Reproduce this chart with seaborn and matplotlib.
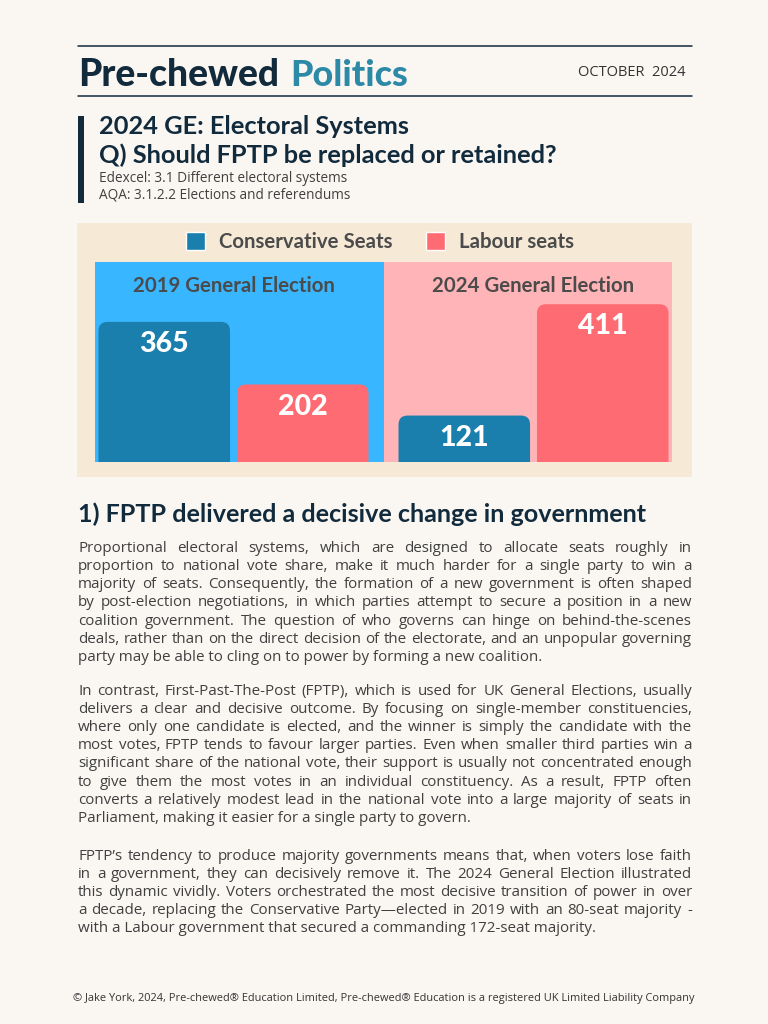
"""Newsletter page: 2019 vs 2024 seat counts with explanatory text."""

import matplotlib.pyplot as plt
from matplotlib.lines import Line2D
from matplotlib.patches import Rectangle, FancyBboxPatch
import seaborn as sns
import pandas as pd

# Chart data
ELECTIONS = ["2019 General Election", "2024 General Election"]
PARTIES = ["Conservative Seats", "Labour seats"]
CON_SEATS = [365, 121]
LAB_SEATS = [202, 411]

PARA_1 = [
    "Proportional electoral systems, which are designed to allocate seats roughly in",
    "proportion to national vote share, make it much harder for a single party to win a",
    "majority of seats. Consequently, the formation of a new government is often shaped",
    "by post-election negotiations, in which parties attempt to secure a position in a new",
    "coalition government. The question of who governs can hinge on behind-the-scenes",
    "deals, rather than on the direct decision of the electorate, and an unpopular governing",
    "party may be able to cling on to power by forming a new coalition.",
]
PARA_2 = [
    "In contrast, First-Past-The-Post (FPTP), which is used for UK General Elections, usually",
    "delivers a clear and decisive outcome. By focusing on single-member constituencies,",
    "where only one candidate is elected, and the winner is simply the candidate with the",
    "most votes, FPTP tends to favour larger parties. Even when smaller third parties win a",
    "significant share of the national vote, their support is usually not concentrated enough",
    "to give them the most votes in an individual constituency. As a result, FPTP often",
    "converts a relatively modest lead in the national vote into a large majority of seats in",
    "Parliament, making it easier for a single party to govern.",
]
PARA_3 = [
    "FPTP\u2019s tendency to produce majority governments means that, when voters lose faith",
    "in a government, they can decisively remove it. The 2024 General Election illustrated",
    "this dynamic vividly. Voters orchestrated the most decisive transition of power in over",
    "a decade, replacing the Conservative Party\u2014elected in 2019 with an 80-seat majority -",
    "with a Labour government that secured a commanding 172-seat majority.",
]

PAGE_BG = "#faf6f2"
NAVY = "#112a3c"
TEAL = "#2d8aa7"
BODY = "#404040"
LABEL = "#4b4b4b"
CON_BLUE = "#1a7fad"
LAB_PINK = "#ff6b72"
CON_BG = "#38b6ff"
LAB_BG = "#ffb4b7"
PANEL = "#f6ead7"

W, H = 768, 1024
TITLE_FONT = ["Lato", "DejaVu Sans"]
BODY_FONT = ["Open Sans", "DejaVu Sans"]


def fx(x):
    return x / W


def fy(y):
    return 1 - y / H


sns.set_theme(style="white")
plt.rcParams["font.family"] = BODY_FONT

fig = plt.figure(figsize=(7.68, 10.24), dpi=100)
fig.patch.set_facecolor(PAGE_BG)
renderer = fig.canvas.get_renderer()


def fit(text, width, **kw):
    """Font size that makes text span the given pixel width."""
    t = fig.text(0, 0, text, fontsize=10, **kw)
    w = t.get_window_extent(renderer).width
    t.remove()
    return 10 * width / w


def put(x, y, text, width, **kw):
    return fig.text(fx(x), fy(y), text, fontsize=fit(text, width, **kw), **kw)


# Header
for y in (46, 96):
    fig.add_artist(Line2D([fx(78), fx(692)], [fy(y), fy(y)], transform=fig.transFigure,
                          color=NAVY, lw=1.1))
logo = dict(family=TITLE_FONT, weight="black", va="baseline")
put(78, 86, "Pre-chewed", 200, color=NAVY, **logo)
put(290, 86, "Politics", 118, color=TEAL, **logo)
put(578, 72, "OCTOBER  2024", 107, color="#333333", va="center")

# Title block
fig.add_artist(Rectangle((fx(78), fy(203)), 6 / W, 87 / H, transform=fig.transFigure,
                         color=NAVY, lw=0))
title = dict(family=TITLE_FONT, weight="bold", color=NAVY, va="center")
tsize = fit("Q) Should FPTP be replaced or retained?", 459, family=TITLE_FONT,
            weight="bold")
fig.text(fx(99), fy(127), "2024 GE: Electoral Systems", fontsize=tsize, **title)
fig.text(fx(99), fy(155), "Q) Should FPTP be replaced or retained?", fontsize=tsize,
         **title)
ssize = fit("Edexcel: 3.1 Different electoral systems", 248)
fig.text(fx(99), fy(179), "Edexcel: 3.1 Different electoral systems", fontsize=ssize,
         color=BODY, va="center")
fig.text(fx(99), fy(195), "AQA: 3.1.2.2 Elections and referendums", fontsize=ssize,
         color=BODY, va="center")

# Chart panel
fig.add_artist(Rectangle((fx(77), fy(477)), 615 / W, 254 / H, transform=fig.transFigure,
                         color=PANEL, lw=0, zorder=0))

df = pd.DataFrame({
    "election": ELECTIONS * 2,
    "party": [PARTIES[0]] * len(ELECTIONS) + [PARTIES[1]] * len(ELECTIONS),
    "seats": CON_SEATS + LAB_SEATS,
})

ax = fig.add_axes([fx(95), fy(462), 577 / W, 200 / H])
group_w = 0.923
ax.axvspan(-group_w / 2, 0.5, color=CON_BG, lw=0, zorder=0)
ax.axvspan(0.5, 1 + group_w / 2, color=LAB_BG, lw=0, zorder=0)
sns.barplot(data=df, x="election", y="seats", hue="party", hue_order=PARTIES,
            palette=[CON_BLUE, LAB_PINK], saturation=1, width=group_w, gap=0.05,
            ax=ax)
ax.set_xlim(-group_w / 2, 1 + group_w / 2)
ax.set_ylim(0, 521)
ax.axis("off")

# Rounded bar tops
px_x = 577 / (1 + group_w)
px_y = 200 / 521
radius = 9 / px_x
for container in ax.containers:
    for bar in container:
        x0, w, h = bar.get_x(), bar.get_width(), bar.get_height()
        bar.set_visible(False)
        ax.add_patch(FancyBboxPatch((x0, -60), w, h + 60,
                                    boxstyle=f"round,pad=0,rounding_size={radius}",
                                    mutation_aspect=px_x / px_y,
                                    fc=bar.get_facecolor(), ec="none", zorder=2))
        ax.annotate(f"{h:.0f}", xy=(x0 + w / 2, h), xytext=(0, -16),
                    textcoords="offset points", ha="center", va="center",
                    family=TITLE_FONT, weight="black", fontsize=20.5, color="white",
                    zorder=3)

label_size = fit("Conservative Seats", 174, family=TITLE_FONT, weight="bold")
for i, name in enumerate(ELECTIONS):
    ax.text(i, 0.88, name, transform=ax.get_xaxis_transform(), ha="center",
            va="center", family=TITLE_FONT, weight="bold", fontsize=label_size,
            color=LABEL)

sns.move_legend(ax, "center", bbox_to_anchor=(fx(380), fy(242)),
                bbox_transform=fig.transFigure, ncol=2, frameon=False, title=None,
                handlelength=0.95, handleheight=0.95, handletextpad=0.7,
                columnspacing=1.6, prop={"family": TITLE_FONT, "weight": "bold",
                                         "size": label_size})
for txt in ax.get_legend().get_texts():
    txt.set_color(LABEL)

# Section heading
put(78, 514, "1) FPTP delivered a decisive change in government", 571,
    family=TITLE_FONT, weight="bold", color=NAVY, va="center")


def justified(lines, baseline, step, size, x0=78, x1=692):
    for i, line in enumerate(lines):
        y = fy(baseline + i * step)
        if i == len(lines) - 1:
            fig.text(fx(x0), y, line, fontsize=size, color=BODY, va="baseline")
            continue
        words = line.split(" ")
        widths = []
        for word in words:
            t = fig.text(0, 0, word, fontsize=size)
            widths.append(t.get_window_extent(renderer).width)
            t.remove()
        gap = (x1 - x0 - sum(widths)) / (len(words) - 1)
        x = x0
        for word, w in zip(words, widths):
            fig.text(fx(x), y, word, fontsize=size, color=BODY, va="baseline")
            x += w + gap


full_lines = PARA_1[:-1] + PARA_2[:-1] + PARA_3[:-1]
size = min(fit(line, 612) for line in full_lines)
justified(PARA_1, 552, 18.15, size)
justified(PARA_2, 695, 18.1, size)
justified(PARA_3, 860, 18.0, size)

footer = ("\u00a9 Jake York, 2024, Pre-chewed\u00ae Education Limited, Pre-chewed\u00ae "
          "Education is a registered UK Limited Liability Company")
fig.text(fx(384), fy(999), footer, fontsize=fit(footer, 620), color="#333333",
         ha="center", va="center")

fig.savefig("out.png", dpi=100, facecolor=PAGE_BG)
